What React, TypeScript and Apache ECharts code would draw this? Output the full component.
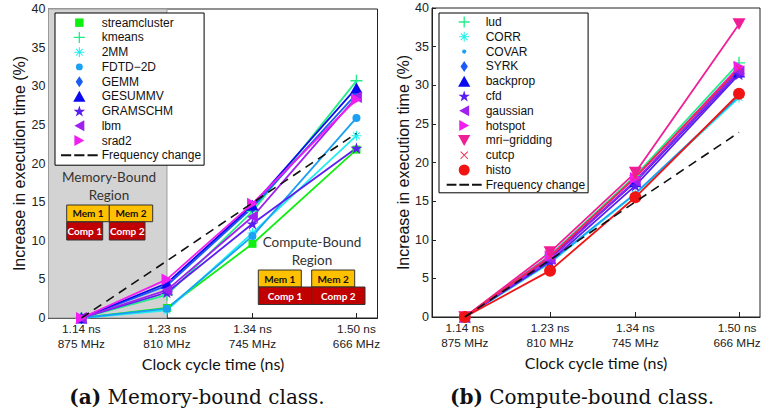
import React, { useEffect, useRef } from 'react';
import * as echarts from 'echarts';

// ---------- data ----------
const freqMHz = [875, 810, 745, 666];
const cycleNs = ['1.14 ns', '1.23 ns', '1.34 ns', '1.50 ns'];

// Memory-bound class
const streamcluster = [0, 1.3, 9.6, 21.8];
const kmeans = [0, 3.0, 13.8, 30.7];
const mm2 = [0, 1.0, 11.0, 23.6];
const fdtd2d = [0, 1.2, 10.6, 25.9];
const gemm = [0, 4.2, 14.3, 29.0];
const gesummv = [0, 4.5, 14.6, 29.8];
const gramschm = [0, 3.3, 12.2, 22.0];
const lbm = [0, 3.6, 13.1, 28.6];
const srad2 = [0, 5.0, 14.8, 28.3];

// Compute-bound class
const lud = [0, 8.0, 18.3, 32.9];
const corr = [0, 7.0, 15.9, 28.4];
const covar = [0, 7.1, 16.0, 28.6];
const syrk = [0, 7.6, 17.6, 32.0];
const backprop = [0, 7.6, 17.5, 31.7];
const cfd = [0, 7.2, 17.0, 31.4];
const gaussian = [0, 7.5, 17.6, 31.8];
const hotspot = [0, 7.9, 18.0, 32.4];
const mriGridding = [0, 8.4, 18.7, 37.9];
const cutcp = [0, 7.8, 18.1, 32.2];
const histo = [0, 6.0, 15.5, 28.9];

// Frequency change = 1 - f / 875
const freqChange = [0, 7.4, 14.9, 23.9];

// ---------- symbols ----------
const SQ = 'M0,0h10v10h-10z';
const PLUS = 'M4.4,0h1.2v10h-1.2zM0,4.4h10v1.2h-10z';
const AST = 'M4.5,0h1v10h-1zM0,4.5h10v1h-10zM1.3,2L2,1.3L8.7,8L8,8.7zM8,1.3L8.7,2L2,8.7L1.3,8z';
const XS = 'M0.8,0L5,4.2L9.2,0L10,0.8L5.8,5L10,9.2L9.2,10L5,5.8L0.8,10L0,9.2L4.2,5L0,0.8z';
const CIRC = 'M0,5a5,5 0 1,0 10,0a5,5 0 1,0 -10,0z';
const DIA = 'M4,0L8,6L4,12L0,6z';
const TUP = 'M5,0L10,9L0,9z';
const TDN = 'M0,0L10,0L5,9z';
const TLF = 'M0,5L9,0L9,10z';
const TRT = 'M0,0L9,5L0,10z';
const STAR = 'M50,0L61.2,34.5L97.6,34.5L68.2,55.9L79.4,90.5L50,69.1L20.6,90.5L31.8,55.9L2.4,34.5L38.8,34.5z';
const DASH = 'M0,0h10v2h-10zM13,0h10v2h-10zM26,0h10v2h-10z';

const p = (d: string) => 'path://' + d;
// padded icon for legend (moveTo points enlarge the bounding box)
const pad = (d: string, a: number, b: number) => `path://M${-a},${-a}M${b},${b}` + d;

type Spec = { name: string; vals: number[]; color: string; sym: string; size: number; icon: string };

const memSpecs: Spec[] = [
  { name: 'streamcluster', vals: streamcluster, color: '#11ee11', sym: p(SQ), size: 8, icon: pad(SQ, 1.5, 11.5) },
  { name: 'kmeans', vals: kmeans, color: '#22ee88', sym: p(PLUS), size: 12, icon: p(PLUS) },
  { name: '2MM', vals: mm2, color: '#22eeee', sym: p(AST), size: 10, icon: pad(AST, 0.5, 10.5) },
  { name: 'FDTD\u22122D', vals: fdtd2d, color: '#1aa0f5', sym: p(CIRC), size: 8, icon: pad(CIRC, 3, 13) },
  { name: 'GEMM', vals: gemm, color: '#1a5cf5', sym: p(DIA), size: 12, icon: p(DIA) },
  { name: 'GESUMMV', vals: gesummv, color: '#0a0af0', sym: p(TUP), size: 12, icon: p(TUP) },
  { name: 'GRAMSCHM', vals: gramschm, color: '#5a1ef0', sym: p(STAR), size: 12, icon: p(STAR) },
  { name: 'lbm', vals: lbm, color: '#a020f0', sym: p(TLF), size: 12, icon: p(TLF) },
  { name: 'srad2', vals: srad2, color: '#f01ef0', sym: p(TRT), size: 12, icon: p(TRT) },
];

const compSpecs: Spec[] = [
  { name: 'lud', vals: lud, color: '#22ee88', sym: p(PLUS), size: 12, icon: p(PLUS) },
  { name: 'CORR', vals: corr, color: '#22eeee', sym: p(AST), size: 10, icon: pad(AST, 0.5, 10.5) },
  { name: 'COVAR', vals: covar, color: '#1aa0f5', sym: p(CIRC), size: 4, icon: pad(CIRC, 8, 18) },
  { name: 'SYRK', vals: syrk, color: '#1a5cf5', sym: p(DIA), size: 12, icon: p(DIA) },
  { name: 'backprop', vals: backprop, color: '#0a0af0', sym: p(TUP), size: 12, icon: p(TUP) },
  { name: 'cfd', vals: cfd, color: '#5a1ef0', sym: p(STAR), size: 12, icon: p(STAR) },
  { name: 'gaussian', vals: gaussian, color: '#a020f0', sym: p(TLF), size: 12, icon: p(TLF) },
  { name: 'hotspot', vals: hotspot, color: '#f01ef0', sym: p(TRT), size: 12, icon: p(TRT) },
  { name: 'mri\u2212gridding', vals: mriGridding, color: '#f01e96', sym: p(TDN), size: 13, icon: p(TDN) },
  { name: 'cutcp', vals: cutcp, color: '#f0284e', sym: p(XS), size: 7, icon: pad(XS, 2, 12) },
  { name: 'histo', vals: histo, color: '#f01414', sym: p(CIRC), size: 12, icon: p(CIRC) },
];

const FREQ_NAME = 'Frequency change';

function lineSeries(s: Spec, idx: number) {
  return {
    name: s.name,
    type: 'line',
    xAxisIndex: idx,
    yAxisIndex: idx,
    data: freqMHz.map((f, i) => [f, s.vals[i]]),
    symbol: s.sym,
    symbolSize: s.size,
    symbolKeepAspect: true,
    lineStyle: { color: s.color, width: 1.8 },
    itemStyle: { color: s.color },
    z: 3,
  };
}

function freqSeries(idx: number) {
  return {
    name: FREQ_NAME,
    type: 'line',
    xAxisIndex: idx,
    yAxisIndex: idx,
    data: freqMHz.map((f, i) => [f, freqChange[i]]),
    symbol: 'none',
    lineStyle: { color: '#111', width: 1.6, type: [9, 6] },
    itemStyle: { color: '#111' },
    z: 4,
  };
}

const SANS = 'Liberation Sans, Arial, sans-serif';
const CAL = 'Lato, sans-serif';

function xAxis(idx: number, shiftLast: boolean) {
  return {
    gridIndex: idx,
    type: 'value',
    min: 650,
    max: 900,
    inverse: true,
    axisLine: { lineStyle: { color: '#222', width: 1 } },
    axisTick: { inside: true, length: 5, customValues: freqMHz, lineStyle: { color: '#222' } },
    axisLabel: {
      customValues: freqMHz,
      formatter: (v: number) => {
        const i = freqMHz.indexOf(Math.round(v));
        if (i < 0) return '';
        const t = `${cycleNs[i]}\n${freqMHz[i]} MHz`;
        return shiftLast && i === freqMHz.length - 1 ? `{r|${t}}` : t;
      },
      rich: { r: { fontSize: 11.8, lineHeight: 15, padding: [0, 4, 0, 0], color: '#222', fontFamily: SANS } },
      fontSize: 11.8,
      lineHeight: 15,
      margin: 3,
      color: '#222',
      fontFamily: SANS,
    },
    splitLine: { show: false },
    name: 'Clock cycle time (ns)',
    nameLocation: 'middle',
    nameGap: 36,
    nameTextStyle: { fontFamily: CAL, fontSize: 16, color: '#111' },
  };
}

function yAxis(idx: number, gap: number) {
  return {
    gridIndex: idx,
    type: 'value',
    min: 0,
    max: 40,
    interval: 5,
    axisLine: { show: true, lineStyle: { color: '#222', width: 1 } },
    axisTick: { show: true, inside: true, length: 4, lineStyle: { color: '#222' } },
    axisLabel: { fontSize: 12.5, margin: 3, color: '#222', fontFamily: SANS },
    splitLine: { show: false },
    name: 'Increase in execution time (%)',
    nameLocation: 'middle',
    nameGap: gap,
    nameTextStyle: { fontFamily: SANS, fontSize: 16, color: '#111' },
  };
}

function legend(specs: Spec[], left: number, top: number, padding: number[], itemWidth: number, lh: number) {
  return {
    orient: 'vertical',
    left,
    top,
    padding,
    itemWidth,
    itemHeight: 11,
    itemGap: 0,
    selectedMode: false,
    backgroundColor: '#fff',
    borderColor: '#000',
    borderWidth: 1,
    textStyle: { fontSize: 12, lineHeight: lh, fontFamily: SANS, color: '#111', padding: [0, 0, 0, -1] },
    data: [
      ...specs.map((s) => ({ name: s.name, icon: s.icon })),
      { name: FREQ_NAME, icon: p(DASH) },
    ],
  };
}

function box(x: number, y: number, w: number, h: number, fill: string, text: string, textColor: string) {
  return {
    type: 'group',
    z: 10,
    children: [
      { type: 'rect', shape: { x, y, width: w, height: h }, style: { fill, stroke: '#333', lineWidth: 1 }, z: 10 },
      {
        type: 'text',
        x: x + w / 2,
        y: y + h / 2,
        z: 11,
        style: { text, fill: textColor, font: `bold 10px ${CAL}`, align: 'center', verticalAlign: 'middle' },
      },
    ],
  };
}

function label(x: number, y: number, text: string) {
  return {
    type: 'text',
    x,
    y,
    z: 10,
    style: { text, fill: '#333', font: `13.5px ${CAL}`, align: 'center', verticalAlign: 'middle' },
  };
}

function caption(x: number, y: number, tag: string, text: string) {
  return {
    type: 'text',
    x,
    y,
    z: 10,
    style: {
      text: `{b|${tag}} ${text}`,
      rich: { b: { fontWeight: 'bold', fontSize: 20, fontFamily: 'DejaVu Serif, serif', fill: '#111' } },
      font: `20px DejaVu Serif, serif`,
      fill: '#111',
      align: 'center',
      verticalAlign: 'middle',
    },
  };
}

const MEM = '#ffc000';
const COMP = '#c00000';

export default function App() {
  const ref = useRef<HTMLDivElement>(null);
  useEffect(() => {
    if (!ref.current) return;
    const chart = echarts.init(ref.current, undefined, { renderer: 'svg' });
    const option: any = {
      animation: false,
      backgroundColor: '#fff',
      grid: [
        { left: 48.5, top: 9, width: 329, height: 309, show: true, borderColor: '#222', borderWidth: 1, backgroundColor: 'transparent', outerBoundsMode: 'none', containLabel: false },
        { left: 432, top: 8, width: 328, height: 309, show: true, borderColor: '#222', borderWidth: 1, backgroundColor: 'transparent', outerBoundsMode: 'none', containLabel: false },
      ],
      xAxis: [xAxis(0, false), xAxis(1, true)],
      yAxis: [yAxis(0, 21), yAxis(1, 18)],
      legend: [
        legend(memSpecs, 55, 13, [2.3, 3, 2.5, 6], 36.7, 14.74),
        legend(compSpecs, 439, 13, [1.6, 3, 0.6, 7.7], 35, 14.8),
      ],
      series: [
        {
          name: 'memRegion',
          type: 'line',
          xAxisIndex: 0,
          yAxisIndex: 0,
          data: [],
          z: 1,
          markArea: {
            silent: true,
            itemStyle: { color: '#d3d3d3', borderColor: '#9a9a9a', borderWidth: 1 },
            data: [[{ coord: [900, 0] }, { coord: [810, 40] }]],
          },
        },
        ...memSpecs.map((s) => lineSeries(s, 0)),
        freqSeries(0),
        ...compSpecs.map((s) => lineSeries(s, 1)),
        freqSeries(1),
      ],
      graphic: [
        label(109, 177, 'Memory-Bound'),
        label(109, 195, 'Region'),
        box(66.7, 205, 42.6, 16.7, MEM, 'Mem 1', '#111'),
        box(109.3, 205, 43.4, 16.7, MEM, 'Mem 2', '#111'),
        box(66.7, 222, 36, 18, COMP, 'Comp 1', '#fff'),
        box(109.3, 222, 35.7, 18, COMP, 'Comp 2', '#fff'),
        label(312, 242, 'Compute-Bound'),
        label(312, 260, 'Region'),
        box(258.3, 270, 43, 17, MEM, 'Mem 1', '#111'),
        box(311.7, 270, 43, 17, MEM, 'Mem 2', '#111'),
        box(258.3, 287, 53.4, 17.5, COMP, 'Comp 1', '#fff'),
        box(311.7, 287, 53.3, 17.5, COMP, 'Comp 2', '#fff'),
        caption(197, 397, '(a)', 'Memory-bound class.'),
        caption(582, 397, '(b)', 'Compute-bound class.'),
      ],
    };
    chart.setOption(option);
    return () => chart.dispose();
  }, []);
  return <div ref={ref} style={{ position: 'absolute', left: 0, top: 0, width: 761, height: 414 }} />;
}
